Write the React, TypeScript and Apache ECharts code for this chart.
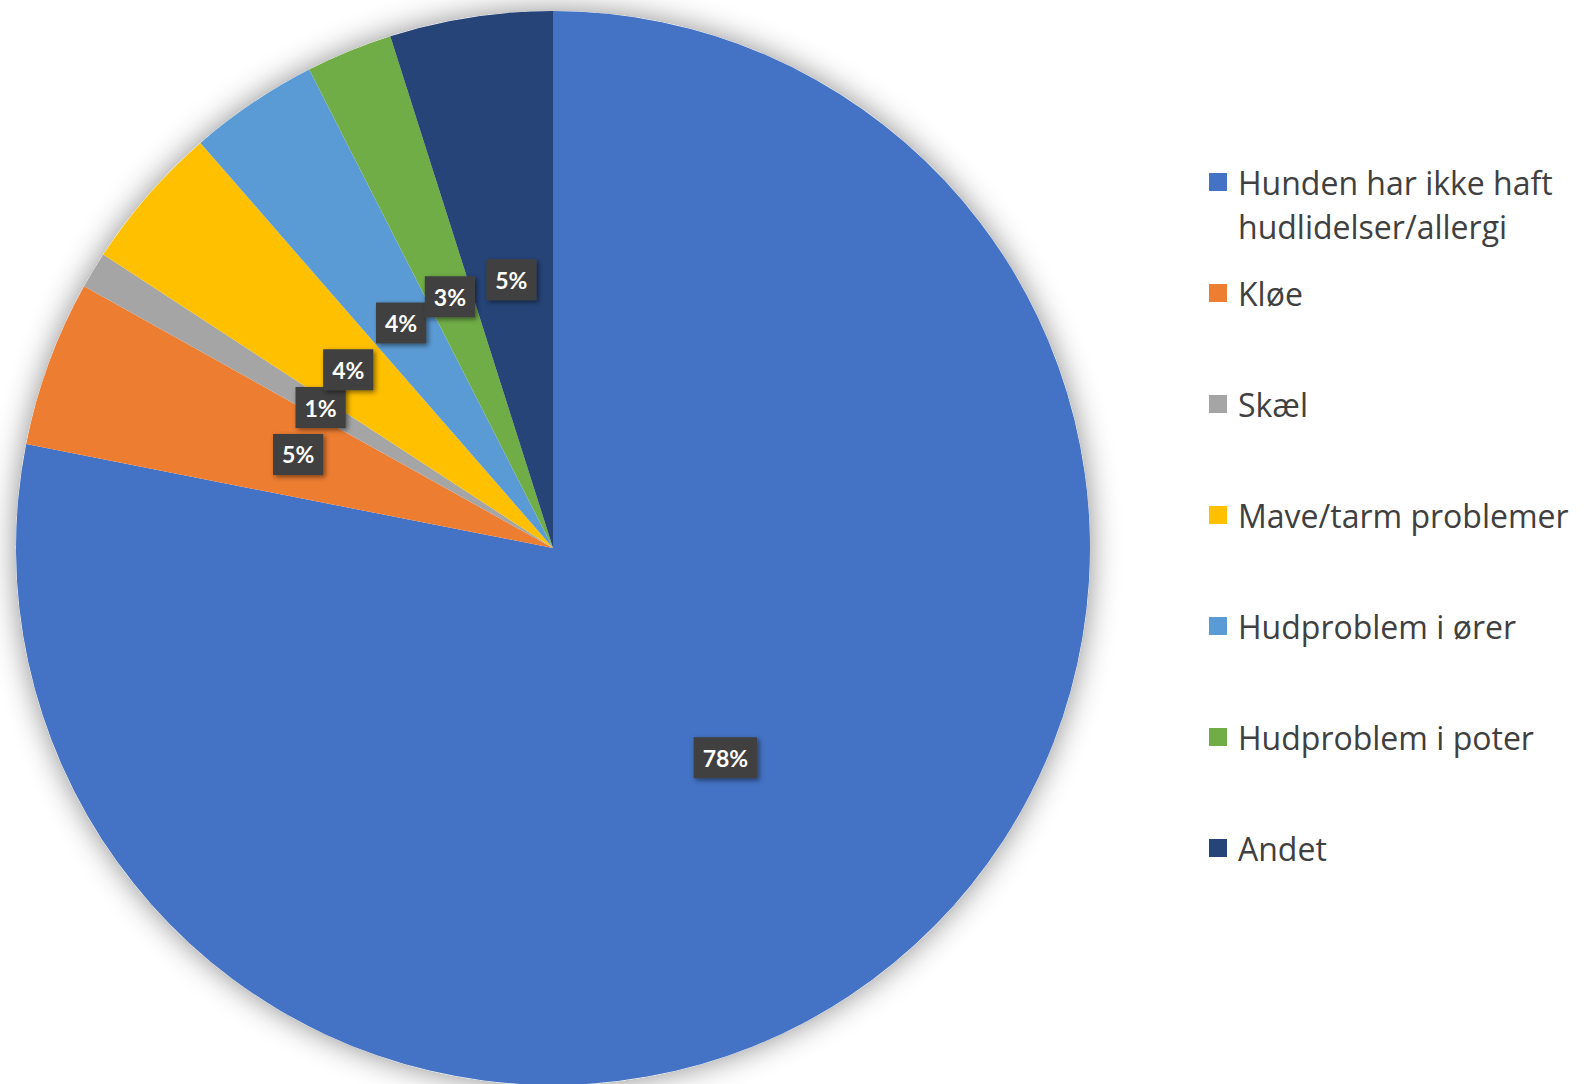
import React, { useEffect, useRef } from "react";
import * as echarts from "echarts";

const categories = [
  "Hunden har ikke haft hudlidelser/allergi",
  "Kløe",
  "Skæl",
  "Mave/tarm problemer",
  "Hudproblem i ører",
  "Hudproblem i poter",
  "Andet",
];
const values = [78.1, 5.0, 1.1, 4.4, 3.9, 2.6, 4.9];
const colors = ["#4472C4", "#ED7D31", "#A5A5A5", "#FFC000", "#5B9BD5", "#70AD47", "#264478"];

const LEGEND_FONT = "'Open Sans', 'Noto Sans', sans-serif";
const LABEL_FONT = "Lato, 'Open Sans', sans-serif";

export default function App() {
  const ref = useRef<HTMLDivElement>(null);
  useEffect(() => {
    if (!ref.current) return;
    const chart = echarts.init(ref.current, null, { renderer: "svg" });
    const cx = 553;
    const cy = 548;
    const r = 537;
    const legendText = {
      fontFamily: LEGEND_FONT,
      fontSize: 32,
      color: "#404040",
      lineHeight: 44,
      padding: [0, 0, 0, 6],
    };
    chart.setOption({
      animation: false,
      backgroundColor: "#ffffff",
      color: colors,
      legend: [
        {
          data: [categories[0]],
          orient: "vertical",
          left: 1209,
          top: 182 - 66,
          padding: 0,
          itemWidth: 18,
          itemHeight: 18,
          icon: "rect",
          selectedMode: false,
          formatter: () => "\nHunden har ikke haft\nhudlidelser/allergi",
          textStyle: legendText,
        },
        {
          data: categories.slice(1),
          orient: "vertical",
          left: 1209,
          top: 293 - 22,
          padding: 0,
          itemGap: 67,
          itemWidth: 18,
          itemHeight: 18,
          icon: "rect",
          selectedMode: false,
          textStyle: legendText,
        },
      ],
      series: [
        {
          type: "pie",
          name: "shadow",
          center: [cx, cy],
          radius: r,
          silent: true,
          z: 1,
          label: { show: false },
          labelLine: { show: false },
          itemStyle: {
            color: "#ffffff",
            shadowBlur: 30,
            shadowColor: "rgba(0,0,0,0.45)",
            shadowOffsetX: 0,
            shadowOffsetY: 0,
          },
          data: [{ name: "__bg", value: 1 }],
        },
        {
          type: "pie",
          center: [cx, cy],
          radius: r,
          startAngle: 90,
          clockwise: true,
          avoidLabelOverlap: false,
          labelLayout: { hideOverlap: false },
          z: 2,
          itemStyle: { borderWidth: 0 },
          label: {
            show: true,
            position: "inside",
            formatter: (p: any) => Math.round(p.percent) + "%",
            fontFamily: LABEL_FONT,
            fontWeight: "bold",
            fontSize: 23,
            lineHeight: 22,
            color: "#ffffff",
            backgroundColor: "#404040",
            padding: [10, 9, 9, 9],
            shadowBlur: 5,
            shadowOffsetX: 2,
            shadowOffsetY: 2,
            shadowColor: "rgba(0,0,0,0.5)",
          },
          labelLine: { show: false },
          emphasis: { disabled: true },
          data: categories.map((c, i) => ({ name: c, value: values[i] })),
        },
      ],
    });
    return () => chart.dispose();
  }, []);
  return (
    <div
      ref={ref}
      style={{ position: "fixed", left: 0, top: 0, width: 1585, height: 1084 }}
    />
  );
}
